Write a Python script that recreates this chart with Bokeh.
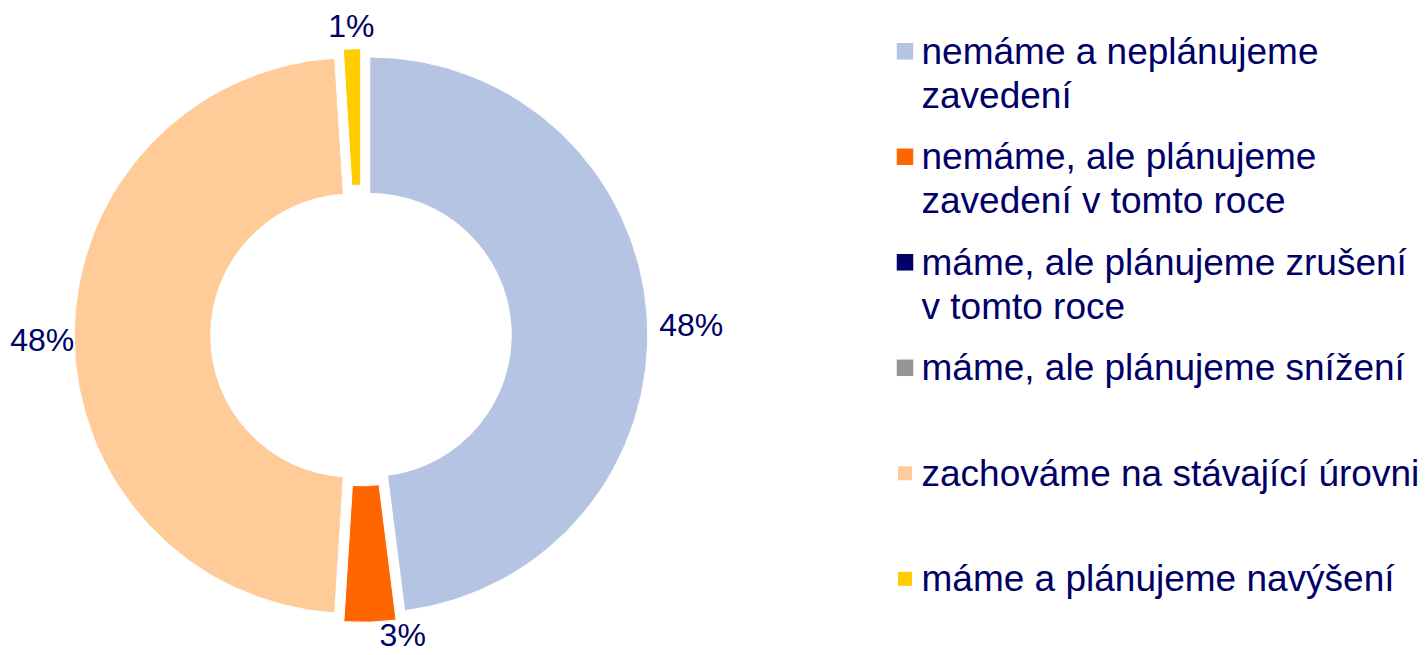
import numpy as np
from bokeh.plotting import figure
from bokeh.models import Range1d, ColumnDataSource
from bokeh.core.properties import value
from bokeh.embed import file_html
from bokeh.resources import INLINE

# ---------------- data ----------------
categories = [
    "nemáme a neplánujeme zavedení",
    "nemáme, ale plánujeme zavedení v tomto roce",
    "máme, ale plánujeme zrušení v tomto roce",
    "máme, ale plánujeme snížení",
    "zachováme na stávající úrovni",
    "máme a plánujeme navýšení",
]
legend_lines = [
    ["nemáme a neplánujeme", "zavedení"],
    ["nemáme, ale plánujeme", "zavedení v tomto roce"],
    ["máme, ale plánujeme zrušení", "v tomto roce"],
    ["máme, ale plánujeme snížení"],
    ["zachováme na stávající úrovni"],
    ["máme a plánujeme navýšení"],
]
values = [48, 3, 0, 0, 48, 1]
labels = ["48%", "3%", "0%", "0%", "48%", "1%"]
colors = ["#B4C4E2", "#FF6600", "#000066", "#969696", "#FFCC99", "#FFCC00"]

# ---------------- style / layout (pixels, y down) ----------------
W, H = 1427, 655
CX, CY = 360.5, 335.0
R_OUT, R_IN, EXPLODE = 278.0, 141.5, 8.8
LABEL_GAP = 12.0
LABEL_HALF_H = 11.0
label_nudge = [(0, 8), (32, -10), (0, 0), (0, 0), (12, 4), (0, 0)]
TEXT_COLOR = "#000066"
FONT = "Liberation Sans"

LEG_MARK_X = 904.5
LEG_TEXT_X = 921.0
LEG_FIRST_BASE = 63.3
LEG_STEP = 105.5
LEG_LINE = 44.0
leg_marker_size = [16.5, 16.5, 16.5, 16.5, 14, 14]


def yd(y_px):
    return H - y_px


p = figure(width=W, height=H, x_range=Range1d(0, W), y_range=Range1d(0, H),
           output_backend="svg", toolbar_location=None,
           x_axis_type=None, y_axis_type=None, min_border=0)
p.grid.visible = False
p.outline_line_color = None
p.background_fill_color = "white"
p.border_fill_color = "white"

vals = np.array(values, dtype=float)
frac = vals / vals.sum()
ends = np.cumsum(frac) * 2 * np.pi
starts = ends - frac * 2 * np.pi
mids = (starts + ends) / 2

wx, wy, sa, ea, wc = [], [], [], [], []
lx, ly, lt, la = [], [], [], []
for i, v in enumerate(values):
    if v <= 0:
        continue
    m = mids[i]
    ox = CX + EXPLODE * np.sin(m)
    oy = CY - EXPLODE * np.cos(m)
    wx.append(ox)
    wy.append(yd(oy))
    sa.append(np.pi / 2 - starts[i])
    ea.append(np.pi / 2 - ends[i])
    wc.append(colors[i])
    s, c = np.sin(m), np.cos(m)
    rl = R_OUT + EXPLODE + LABEL_GAP
    if s > 0.5:
        align = "left"
    elif s < -0.5:
        align = "right"
    else:
        align = "center"
        rl += LABEL_HALF_H
    px = CX + rl * s + label_nudge[i][0]
    py = CY - rl * c + label_nudge[i][1]
    lx.append(px); ly.append(yd(py)); lt.append(labels[i]); la.append(align)

src = ColumnDataSource(dict(x=wx, y=wy, sa=sa, ea=ea, c=wc))
p.annular_wedge(x="x", y="y", inner_radius=R_IN, outer_radius=R_OUT,
                start_angle="sa", end_angle="ea", direction="clock",
                fill_color="c", line_color="white", line_width=1, source=src)

lsrc = ColumnDataSource(dict(x=lx, y=ly, t=lt, a=la))
p.text(x="x", y="y", text="t", text_align="a", text_baseline="middle", source=lsrc,
       text_font=value(FONT), text_font_size="32px", text_color=TEXT_COLOR)

# ---------------- legend ----------------
mx, my, ms, mc = [], [], [], []
tx, ty, tt = [], [], []
for i, lines in enumerate(legend_lines):
    base = LEG_FIRST_BASE + LEG_STEP * i
    mx.append(LEG_MARK_X); my.append(yd(base - 12.5)); ms.append(leg_marker_size[i]); mc.append(colors[i])
    for j, ln in enumerate(lines):
        tx.append(LEG_TEXT_X); ty.append(yd(base + j * LEG_LINE - 12.8)); tt.append(ln)

p.rect(x="x", y="y", width="s", height="s", fill_color="c", line_color=None,
       source=ColumnDataSource(dict(x=mx, y=my, s=ms, c=mc)))
p.text(x="x", y="y", text="t", text_align="left", text_baseline="middle",
       source=ColumnDataSource(dict(x=tx, y=ty, t=tt)),
       text_font=value(FONT), text_font_size="37px", text_color=TEXT_COLOR)

open("out.html", "w").write(file_html(p, INLINE))
